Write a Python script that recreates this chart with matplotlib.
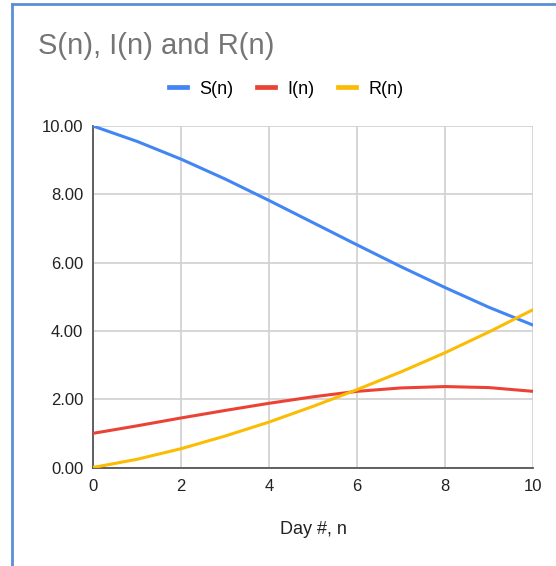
import matplotlib.pyplot as plt
from matplotlib.lines import Line2D
from matplotlib.ticker import FormatStrFormatter

plt.rcParams['font.family'] = ['Liberation Sans', 'DejaVu Sans']

# data
days = [0, 1, 2, 3, 4, 5, 6, 7, 8, 9, 10]
s_n = [10.00, 9.55, 9.03, 8.45, 7.82, 7.17, 6.52, 5.88, 5.27, 4.69, 4.17]
i_n = [1.00, 1.22, 1.45, 1.67, 1.88, 2.07, 2.23, 2.33, 2.37, 2.34, 2.23]
r_n = [0.00, 0.24, 0.55, 0.92, 1.33, 1.79, 2.28, 2.80, 3.36, 3.97, 4.62]

colors = ['#4285F4', '#EA4335', '#FBBC04']
names = ['S(n)', 'I(n)', 'R(n)']

fig = plt.figure(figsize=(5.56, 5.66), dpi=100)
ax = fig.add_axes([93/556, 1-467.5/566, 440/556, 341.5/566])

for vals, c, nm in zip([s_n, i_n, r_n], colors, names):
    ax.plot(days, vals, color=c, lw=2.2, label=nm, solid_capstyle='round', zorder=3)

ax.set_xlim(0, 10)
ax.set_ylim(0, 10)
ax.set_xticks(range(0, 11, 2))
ax.set_yticks(range(0, 11, 2))
ax.yaxis.set_major_formatter(FormatStrFormatter('%.2f'))
ax.grid(True, color='#d0d0d0', lw=1.2)
ax.set_axisbelow(True)
ax.tick_params(length=0, labelsize=12, colors='#222222')
ax.tick_params(axis='y', pad=7)
ax.tick_params(axis='x', pad=8.5)
for sp in ['top', 'right']:
    ax.spines[sp].set_visible(False)
for sp in ['left', 'bottom']:
    ax.spines[sp].set_color('#555555')
    ax.spines[sp].set_linewidth(1.3)
ax.set_xlabel('Day #, n', fontsize=13, color='#222222', va='center')
ax.xaxis.set_label_coords(0.5, (467.5 - 529) / 341.5)

fig.text(38/556, 1-46/566, 'S(n), I(n) and R(n)', fontsize=21, color='#757575', va='center')

handles = [Line2D([], [], color=c, lw=3.4) for c in colors]
fig.legend(handles, names, loc='center', bbox_to_anchor=(286/556, 1-89/566),
           ncol=3, frameon=False, fontsize=13, handlelength=1.0,
           columnspacing=1.33, handletextpad=0.67, borderpad=0)

# blue outline of the chart box
fig.add_artist(Line2D([12/556, 12/556], [0, 1-4/566], transform=fig.transFigure,
                      color='#5b8fd6', lw=2))
fig.add_artist(Line2D([12/556, 1], [1-4/566, 1-4/566], transform=fig.transFigure,
                      color='#5b8fd6', lw=2))

fig.savefig('out.png', dpi=100)
